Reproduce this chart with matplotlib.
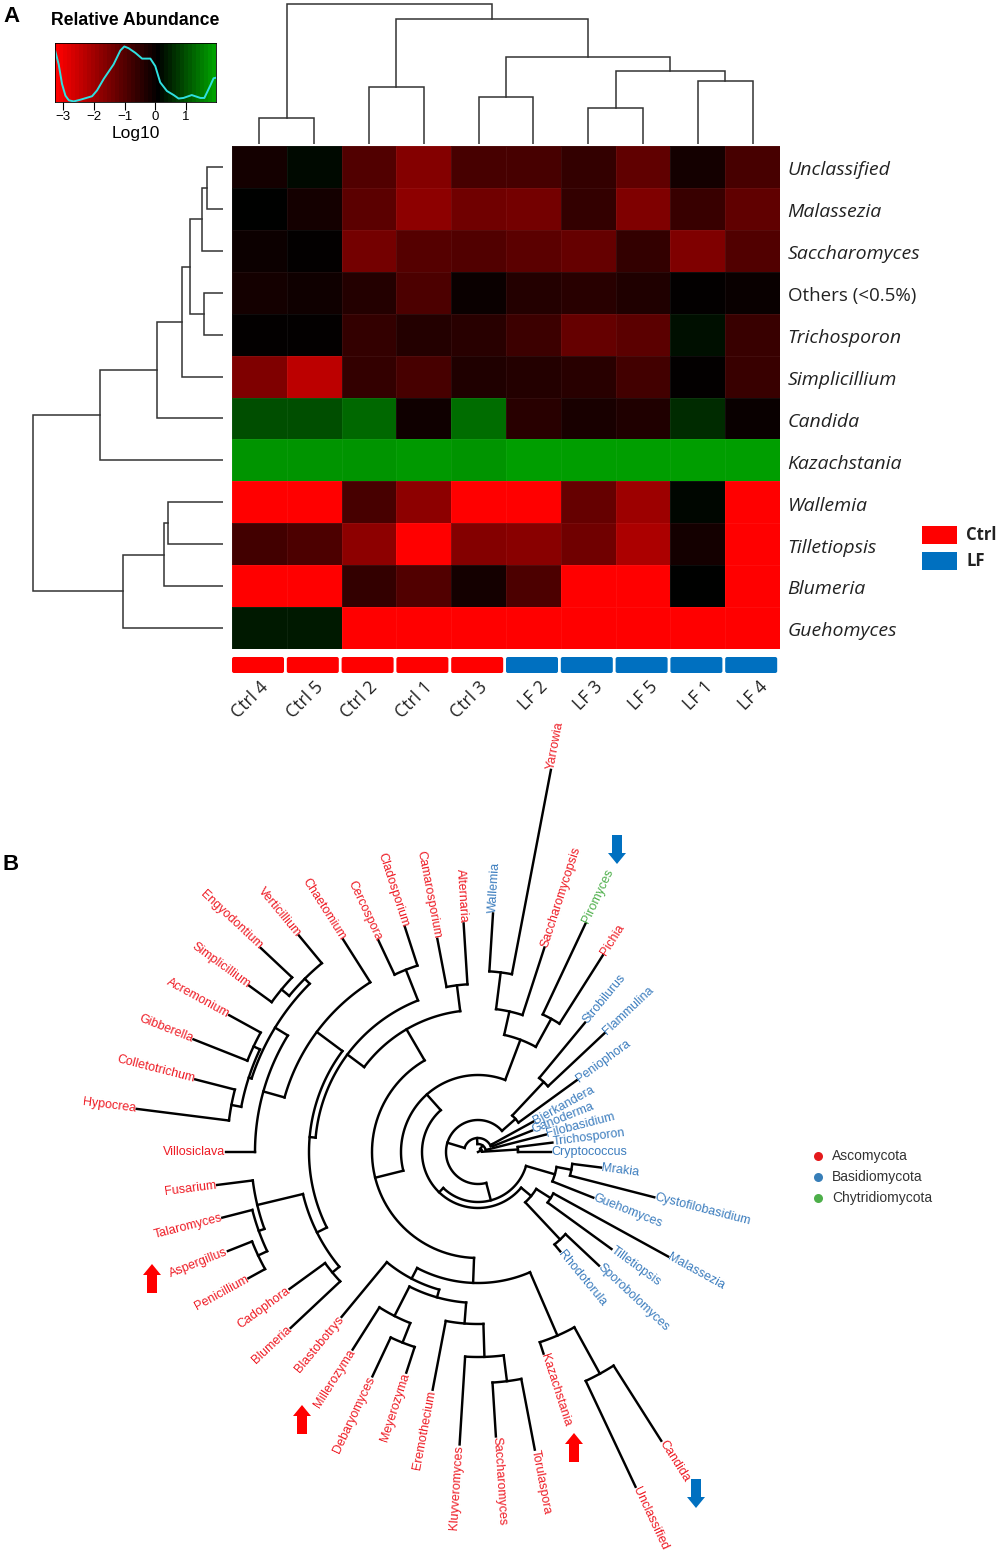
import numpy as np
import matplotlib
matplotlib.use('Agg')
import matplotlib.pyplot as plt
from matplotlib.colors import LinearSegmentedColormap
from matplotlib.patches import FancyBboxPatch, Rectangle

plt.rcParams['font.family'] = ['Liberation Sans', 'DejaVu Sans']

W, H = 1000, 1553

# panel A data
row_labels = ['Unclassified', 'Malassezia', 'Saccharomyces', 'Others (<0.5%)', 'Trichosporon',
              'Simplicillium', 'Candida', 'Kazachstania', 'Wallemia', 'Tilletiopsis', 'Blumeria', 'Guehomyces']
col_labels = ['Ctrl 4', 'Ctrl 5', 'Ctrl 2', 'Ctrl 1', 'Ctrl 3', 'LF 2', 'LF 3', 'LF 5', 'LF 1', 'LF 4']
col_group = ['Ctrl', 'Ctrl', 'Ctrl', 'Ctrl', 'Ctrl', 'LF', 'LF', 'LF', 'LF', 'LF']
heat = [
    [-0.17, 0.20, -0.97, -1.63, -0.83, -0.83, -0.57, -1.17, -0.17, -0.83],
    [0.10, -0.17, -1.10, -1.77, -1.37, -1.43, -0.57, -1.57, -0.63, -1.17],
    [-0.06, 0.06, -1.43, -1.03, -0.97, -1.10, -1.23, -0.57, -1.57, -0.97],
    [-0.17, -0.10, -0.37, -0.90, -0.03, -0.37, -0.43, -0.30, 0.06, -0.01],
    [0.06, 0.06, -0.57, -0.37, -0.43, -0.70, -1.23, -1.10, 0.27, -0.63],
    [-1.57, -2.37, -0.57, -0.83, -0.30, -0.37, -0.43, -0.77, 0.06, -0.63],
    [1.00, 1.00, 1.32, -0.10, 1.38, -0.43, -0.23, -0.30, 0.60, -0.01],
    [1.83, 1.83, 1.83, 1.88, 1.83, 1.94, 1.94, 1.94, 1.94, 1.94],
    [-3.3, -3.3, -0.83, -1.77, -3.3, -3.3, -1.23, -1.97, 0.16, -3.3],
    [-0.77, -0.90, -1.77, -3.3, -1.63, -1.70, -1.37, -2.17, -0.17, -3.3],
    [-3.3, -3.3, -0.57, -0.97, -0.17, -0.90, -3.3, -3.3, 0.10, -3.3],
    [0.39, 0.39, -3.3, -3.3, -3.3, -3.3, -3.3, -3.3, -3.3, -3.3],
]
# dendrograms: (height, left, right), ints are leaf positions
col_tree = (140, (26, 0, 1),
            (125, (57, 2, 3),
             (87, (47, 4, 5),
              (73, (36, 6, 7), (63, 8, 9)))))
row_tree = (190,
            (123, (66, (41, (33, (21, (16, 0, 1), 2), (19, 3, 4)), 5), 6), 7),
            (100, (59, (55, 8, 9), 10), 11))

# density curve on the colour key
key_x = [-3.26, -3.15, -3.04, -2.93, -2.82, -2.66, -2.44, -2.06, -1.90, -1.68, -1.36, -1.14, -1.01, -0.87, -0.65,
         -0.43, -0.16, 0.0, 0.16, 0.38, 0.60, 0.76, 0.92, 1.19, 1.47, 1.60, 1.79, 1.90, 1.98]
key_y = [.876, .65, .31, .11, .03, .01, .04, .10, .20, .40, .65, .89, .96, .93, .85,
         .75, .75, .62, .34, .19, .12, .06, .07, .12, .07, .07, .28, .41, .42]

# panel B data, leaves in counter clockwise order starting at 0 deg
leaf_names = ['Cryptococcus', 'Trichosporon', 'Filobasidium', 'Ganoderma', 'Bjerkandera', 'Peniophora', 'Flammulina',
              'Strobilurus', 'Pichia', 'Piromyces', 'Saccharomycopsis', 'Yarrowia', 'Wallemia', 'Alternaria',
              'Camarosporium', 'Cladosporium', 'Cercospora', 'Chaetomium', 'Verticillium', 'Engyodontium',
              'Simplicillium', 'Acremonium', 'Gibberella', 'Colletotrichum', 'Hypocrea', 'Villosiclava', 'Fusarium',
              'Talaromyces', 'Aspergillus', 'Penicillium', 'Cadophora', 'Blumeria', 'Blastobotrys', 'Millerozyma',
              'Debaryomyces', 'Meyerozyma', 'Eremothecium', 'Kluyveromyces', 'Saccharomyces', 'Torulaspora',
              'Kazachstania', 'Unclassified', 'Candida', 'Rhodotorula', 'Sporobolomyces', 'Tilletiopsis', 'Malassezia',
              'Guehomyces', 'Cystofilobasidium', 'Mrakia']
leaf_radius = [73, 75, 70, 58, 63, 122, 174, 168, 233, 253, 215, 389, 239, 229, 217, 237, 234, 252, 281, 298,
               283, 284, 306, 292, 344, 252, 263, 264, 269, 262, 233, 257, 214, 234, 248, 232, 242, 293, 285, 303,
               212, 370, 342, 129, 166, 165, 217, 124, 182, 124]
basidio = ['Cryptococcus', 'Trichosporon', 'Filobasidium', 'Ganoderma', 'Bjerkandera', 'Peniophora', 'Flammulina',
           'Strobilurus', 'Wallemia', 'Rhodotorula', 'Sporobolomyces', 'Tilletiopsis', 'Malassezia', 'Guehomyces',
           'Cystofilobasidium', 'Mrakia']
chytrid = ['Piromyces']

# (radius, child, child), a name is a leaf
node_I = (120, (152, 'Pichia', 'Piromyces'), (144, 'Saccharomycopsis', (181, 'Yarrowia', 'Wallemia')))
node_Z = (238, (245, 'Verticillium', (255, 'Engyodontium', 'Simplicillium')),
          (241, (248, 'Acremonium', 'Gibberella'), (251, 'Colletotrichum', 'Hypocrea')))
node_X = (201, 'Chaetomium', (223, node_Z, 'Villosiclava'))
node_W = (180, (227, 'Fusarium', (233, 'Talaromyces', (243, 'Aspergillus', 'Penicillium'))),
          (189, 'Cadophora', 'Blumeria'))
node_T = (142, (168, 'Alternaria', 'Camarosporium'),
          (163, (196, 'Cladosporium', 'Cercospora'), (169, node_X, node_W)))
node_O = (151, (184, 'Millerozyma', (205, 'Debaryomyces', 'Meyerozyma')),
          (172, 'Eremothecium', (205, 'Kluyveromyces', (231, 'Saccharomyces', 'Torulaspora'))))
node_L = (131, (143, 'Blastobotrys', node_O), (200, 'Kazachstania', (253, 'Unclassified', 'Candida')))
node_D = (56, (77, node_I, (106, node_T, node_L)),
          (69, (120, 'Rhodotorula', 'Sporobolomyces'), (86, 'Tilletiopsis', 'Malassezia')))
node_A = (32, (50, 'Peniophora', (96, 'Flammulina', 'Strobilurus')),
          (50, node_D, (80, 'Guehomyces', (95, 'Cystofilobasidium', 'Mrakia'))))
fungi_tree = (4, (40, 'Cryptococcus', 'Trichosporon'),
              (8, 'Filobasidium', (14, (16, 'Ganoderma', 'Bjerkandera'), node_A)))

arrow_x = [152, 617, 302, 574, 696]
arrow_y = [1264, 835, 1405, 1433, 1479]
arrow_up = [True, False, True, True, False]

RED = '#ee1c25'
BLUE = '#3c7dbe'
GREEN = '#4daf4a'
BAR_RED = '#ff0000'
BAR_BLUE = '#0070c0'


def px_axes(fig, x0, y0, x1, y1, **kw):
    return fig.add_axes([x0 / W, 1 - y1 / H, (x1 - x0) / W, (y1 - y0) / H], **kw)


def draw_dendro(ax, node, horizontal=False):
    if isinstance(node, int):
        return node + .5, 0
    h, left, right = node
    xl, hl = draw_dendro(ax, left, horizontal)
    xr, hr = draw_dendro(ax, right, horizontal)
    px = [xl, xl, xr, xr]
    py = [hl, h, h, hr]
    if horizontal:
        ax.plot(py, px, color='#333333', lw=1.1, solid_joinstyle='miter')
    else:
        ax.plot(px, py, color='#333333', lw=1.1, solid_joinstyle='miter')
    return (xl + xr) / 2, h


fig = plt.figure(figsize=(W / 100, H / 100), dpi=100)
cmap = LinearSegmentedColormap.from_list('rkg', [(0, '#ff0000'), (3.37 / 5.25, '#000000'), (1, '#00a000')])

# heatmap
ax = px_axes(fig, 232, 146, 780, 649)
ax.pcolormesh(np.array(heat), cmap=cmap, vmin=-3.27, vmax=1.98, edgecolors=(1, 1, 1, 0.05), linewidth=0.5)
ax.set_xlim(0, 10)
ax.set_ylim(12, 0)
ax.axis('off')
for i, lab in enumerate(row_labels):
    others = lab.startswith('Others')
    ax.text(10.14, i + .58, lab, fontsize=13.5 if others else 14, family='Open Sans',
            style='normal' if others else 'italic', va='center', ha='left', color='#222222')

# column dendrogram
ax = px_axes(fig, 232, 0, 780, 144)
draw_dendro(ax, col_tree)
ax.set_xlim(0, 10)
ax.set_ylim(0, 144)
ax.axis('off')

# row dendrogram
ax = px_axes(fig, 0, 146, 223, 649)
draw_dendro(ax, row_tree, horizontal=True)
ax.set_xlim(223, 0)
ax.set_ylim(12, 0)
ax.axis('off')

# sample colour bar
ax = px_axes(fig, 232, 656, 780, 674)
ax.set_xlim(0, 548)
ax.set_ylim(0, 18)
ax.axis('off')
for i, g in enumerate(col_group):
    c = BAR_RED if g == 'Ctrl' else BAR_BLUE
    ax.add_patch(FancyBboxPatch((i * 54.8 + 1.5, 2.5), 49, 13, boxstyle='round,pad=1.5,rounding_size=2', fc=c, ec='none'))
    ax.text(i * 54.8 + (27 if g == 'Ctrl' else 33), -4, col_labels[i], rotation=45, rotation_mode='anchor',
            ha='right', va='top', fontsize=12.8, family='Open Sans', color='#222222')

# colour key
ax = px_axes(fig, 55, 43, 216, 102)
ax.imshow(np.linspace(-3.27, 1.98, 40)[None, :], cmap=cmap, vmin=-3.27, vmax=1.98, aspect='auto',
          extent=[-3.27, 1.98, 0, 1.02])
ax.plot(key_x, key_y, color='#2fe0e0', lw=1.4)
ax.set_xlim(-3.27, 1.98)
ax.set_ylim(0, 1.02)
ax.set_yticks([])
ax.set_xticks([-3, -2, -1, 0, 1])
ax.tick_params(axis='x', length=6, width=0.8, labelsize=9.5, pad=0.5)
ax.set_xlabel('Log10', fontsize=12.5, labelpad=2)
for s in ax.spines.values():
    s.set_linewidth(0.6)
ax.set_title('Relative Abundance', fontsize=12.7, fontweight='bold', pad=13)

# fan tree
R_MAX = 400
ax = px_axes(fig, 478 - R_MAX, 1152 - R_MAX, 478 + R_MAX, 1152 + R_MAX, projection='polar')
ax.set_ylim(0, R_MAX)
ax.axis('off')
ax.patch.set_alpha(0)
step = 360 / len(leaf_names)
line_kw = dict(color='black', lw=1.75, solid_capstyle='projecting', solid_joinstyle='miter')


def node_pos(node):
    if isinstance(node, str):
        i = leaf_names.index(node)
        return i * step, leaf_radius[i]
    return (node_pos(node[1])[0] + node_pos(node[2])[0]) / 2, node[0]


def draw_node(node):
    if isinstance(node, str):
        return
    r = node[0]
    a1 = node_pos(node[1])
    a2 = node_pos(node[2])
    arc = np.radians(np.linspace(a1[0], a2[0], 60))
    ax.plot(arc, np.full(60, r), **line_kw)
    for a, child in ((a1, node[1]), (a2, node[2])):
        ax.plot(np.radians([a[0], a[0]]), [r, a[1]], **line_kw)
        draw_node(child)


draw_node(fungi_tree)
root_a = node_pos(fungi_tree)[0]
ax.plot(np.radians([root_a, root_a]), [0, fungi_tree[0]], **line_kw)

for i, name in enumerate(leaf_names):
    ang = i * step
    col = BLUE if name in basidio else GREEN if name in chytrid else RED
    if 90 < ang < 270:
        rot, ha = ang - 180, 'right'
    else:
        rot, ha = (ang - 360 if ang > 270 else ang), 'left'
    ax.text(np.radians(ang), leaf_radius[i] + 0.5, name, color=col, fontsize=9, rotation=rot, ha=ha, va='center',
            rotation_mode='anchor')

# overlay in figure pixels: panel letters, arrows, legends
ov = fig.add_axes([0, 0, 1, 1])
ov.set_xlim(0, W)
ov.set_ylim(H, 0)
ov.axis('off')
ov.patch.set_alpha(0)
ov.text(3, 16, 'A', fontsize=16, fontweight='bold', va='center')
ov.text(3, 864, 'B', fontsize=16, fontweight='bold', va='center')

for x, y, up in zip(arrow_x, arrow_y, arrow_up):
    c = '#ff0000' if up else BAR_BLUE
    if up:
        ov.arrow(x, y + 29, 0, -29, width=10, head_width=18, head_length=11, length_includes_head=True, fc=c, ec='none')
    else:
        ov.arrow(x, y, 0, 29, width=10, head_width=18, head_length=11, length_includes_head=True, fc=c, ec='none')

for y, c, lab in ((526, BAR_RED, 'Ctrl'), (552, BAR_BLUE, 'LF')):
    ov.add_patch(Rectangle((922, y), 35, 17.5, fc=c, ec='none'))
    ov.text(966, y + 9, lab, fontsize=12, fontweight='bold', family='Open Sans', va='center', color='#222222')

for y, c, lab in ((1156, '#e41a1c', 'Ascomycota'), (1177, '#377eb8', 'Basidiomycota'), (1198, GREEN, 'Chytridiomycota')):
    ov.plot([818], [y], 'o', ms=6.5, color=c, mec='none')
    ov.text(832, y, lab, fontsize=10, va='center', color='#333333')

fig.savefig('out.png', dpi=100)
